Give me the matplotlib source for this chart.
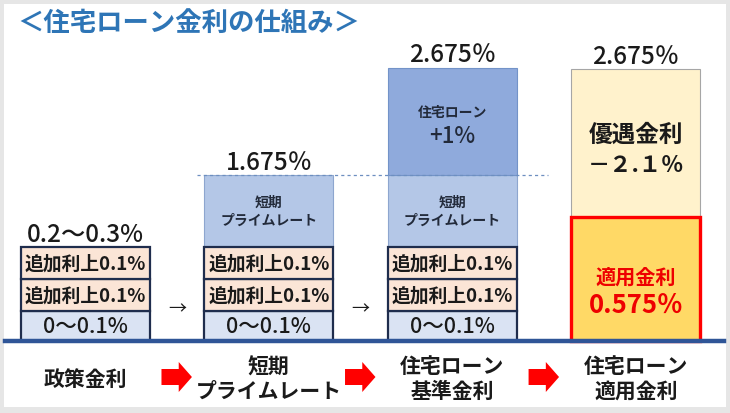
import matplotlib
matplotlib.use('Agg')
import matplotlib.pyplot as plt
import numpy as np
from matplotlib.patches import Rectangle, FancyArrow

plt.rcParams['font.family'] = ['Noto Sans CJK JP', 'DejaVu Sans']

# ---- data (schematic segment heights) ----
categories = ['政策金利', '短期\nプライムレート', '住宅ローン\n基準金利', '住宅ローン\n適用金利']
top_labels = ['0.2～0.3%', '1.675％', '2.675％', '2.675％']
base_h = [30, 30, 30, 0]        # 0～0.1%
add1_h = [32, 32, 32, 0]        # 追加利上0.1%
add2_h = [32, 32, 32, 0]        # 追加利上0.1%
prime_h = [0, 72, 72, 0]        # 短期プライムレート
loan_h = [0, 0, 107, 0]         # 住宅ローン +1%
applied_h = [0, 0, 0, 124]      # 適用金利 0.575%
pref_h = [0, 0, 0, 148]         # 優遇金利 -2.1%

W, H = 730, 414
fig = plt.figure(figsize=(W / 100, H / 100), dpi=100)
fig.patch.set_facecolor('#e6e6e6')
fig.add_artist(Rectangle((4 / W, 6 / H), 722 / W, 403 / H, transform=fig.transFigure,
                         facecolor='white', edgecolor='none', zorder=-5))

ax = fig.add_axes([0, 0, 1, 1])
ax.patch.set_visible(False)
ax.set_axis_off()
unit = 183.55
x0 = 85.3
ax.set_xlim(-x0 / unit, (W - x0) / unit)
ax.set_ylim(-(H - 342), 342)

x = np.arange(len(categories))
bw = 0.703
dark = '#1f2d4d'
txt = '#1a1a1a'

segments = [
    (base_h, '#dae3f3', dark, 1.6, 3),
    (add1_h, '#fbe5d6', dark, 1.6, 3),
    (add2_h, '#fbe5d6', dark, 1.6, 3),
    (prime_h, '#b4c7e7', '#8ea6cf', 0.8, 2),
    (loan_h, '#8faadc', '#7393c8', 0.8, 2),
    (applied_h, '#ffd966', '#ff0000', 2.4, 4),
    (pref_h, '#fff2cc', '#a6a6a6', 0.8, 2),
]

bottom = np.zeros(len(categories))
centers = {}
for k, (h, fc, ec, lw, z) in enumerate(segments):
    h = np.array(h, dtype=float)
    mask = h > 0
    ax.bar(x[mask], h[mask], bottom=bottom[mask], width=bw, color=fc,
           edgecolor=ec, linewidth=lw, zorder=z)
    centers[k] = bottom + h / 2
    bottom = bottom + h
totals = bottom

for i in x:
    if base_h[i] > 0:
        ax.text(i, centers[0][i], '0～0.1%', ha='center', va='center',
                fontsize=15.5, color=txt, fontweight='medium', zorder=6)
    if add1_h[i] > 0:
        ax.text(i, centers[1][i], '追加利上0.1%', ha='center', va='center',
                fontsize=13.5, color=txt, fontweight='bold', zorder=6)
    if add2_h[i] > 0:
        ax.text(i, centers[2][i], '追加利上0.1%', ha='center', va='center',
                fontsize=13.5, color=txt, fontweight='bold', zorder=6)
    if prime_h[i] > 0:
        ax.text(i, centers[3][i], '短期\nプライムレート', ha='center', va='center',
                fontsize=10, color='#222a3a', fontweight='bold', linespacing=1.35, zorder=6)
    if loan_h[i] > 0:
        ax.text(i, centers[4][i] + 10, '住宅ローン', ha='center', va='center',
                fontsize=10, color='#222a3a', fontweight='bold', zorder=6)
        ax.text(i, centers[4][i] - 14, '+1%', ha='center', va='center',
                fontsize=16, color='#222a3a', fontweight='medium', zorder=6)
    if applied_h[i] > 0:
        ax.text(i, centers[5][i] + 3, '適用金利', ha='center', va='center',
                fontsize=14.5, color='#ee0000', fontweight='bold', zorder=6)
        ax.text(i, centers[5][i] - 25, '0.575％', ha='center', va='center',
                fontsize=18.5, color='#ee0000', fontweight='bold', zorder=6)
    if pref_h[i] > 0:
        ax.text(i, centers[6][i] + 9, '優遇金利', ha='center', va='center',
                fontsize=17, color=txt, fontweight='bold', zorder=6)
        ax.text(i, centers[6][i] - 21, '－２.１％', ha='center', va='center',
                fontsize=16, color=txt, fontweight='bold', zorder=6)
    ax.text(i, totals[i] + 13.5, top_labels[i], ha='center', va='center',
            fontsize=17.5, color=txt, fontweight='medium', zorder=6)
    ax.text(i, -37, categories[i], ha='center', va='center', fontsize=15,
            color=txt, fontweight='bold', linespacing=1.2, zorder=6)

# dotted guide line at top of the short-term prime rate
ax.hlines(totals[1], 1 - bw / 2 - 0.04, 2 + 0.52, colors='#6d8fc0',
          linestyles=(0, (2.5, 2.5)), linewidth=0.9, zorder=5)

# small arrows between first bars
for i in range(2):
    ax.text(i + 0.5, 342 - 309, '→', ha='center', va='center', fontsize=13,
            color=txt, zorder=6)

# red block arrows between the bottom labels
for i in range(3):
    ax.add_patch(FancyArrow(i + 0.5 - 0.085, -36, 0.094, 0, width=16,
                            head_width=30, head_length=0.072,
                            length_includes_head=False, color='#ff0000',
                            linewidth=0, zorder=6))

# baseline
ax.axhline(0, xmin=5 / W, xmax=724 / W, color='#2f5597', linewidth=3.2, zorder=7)

fig.text(17 / W, 1 - 23 / H, '＜住宅ローン金利の仕組み＞', ha='left', va='center',
         fontsize=19, color='#2e75b6', fontweight='bold')

fig.savefig('out.png', dpi=100, facecolor=fig.get_facecolor())
